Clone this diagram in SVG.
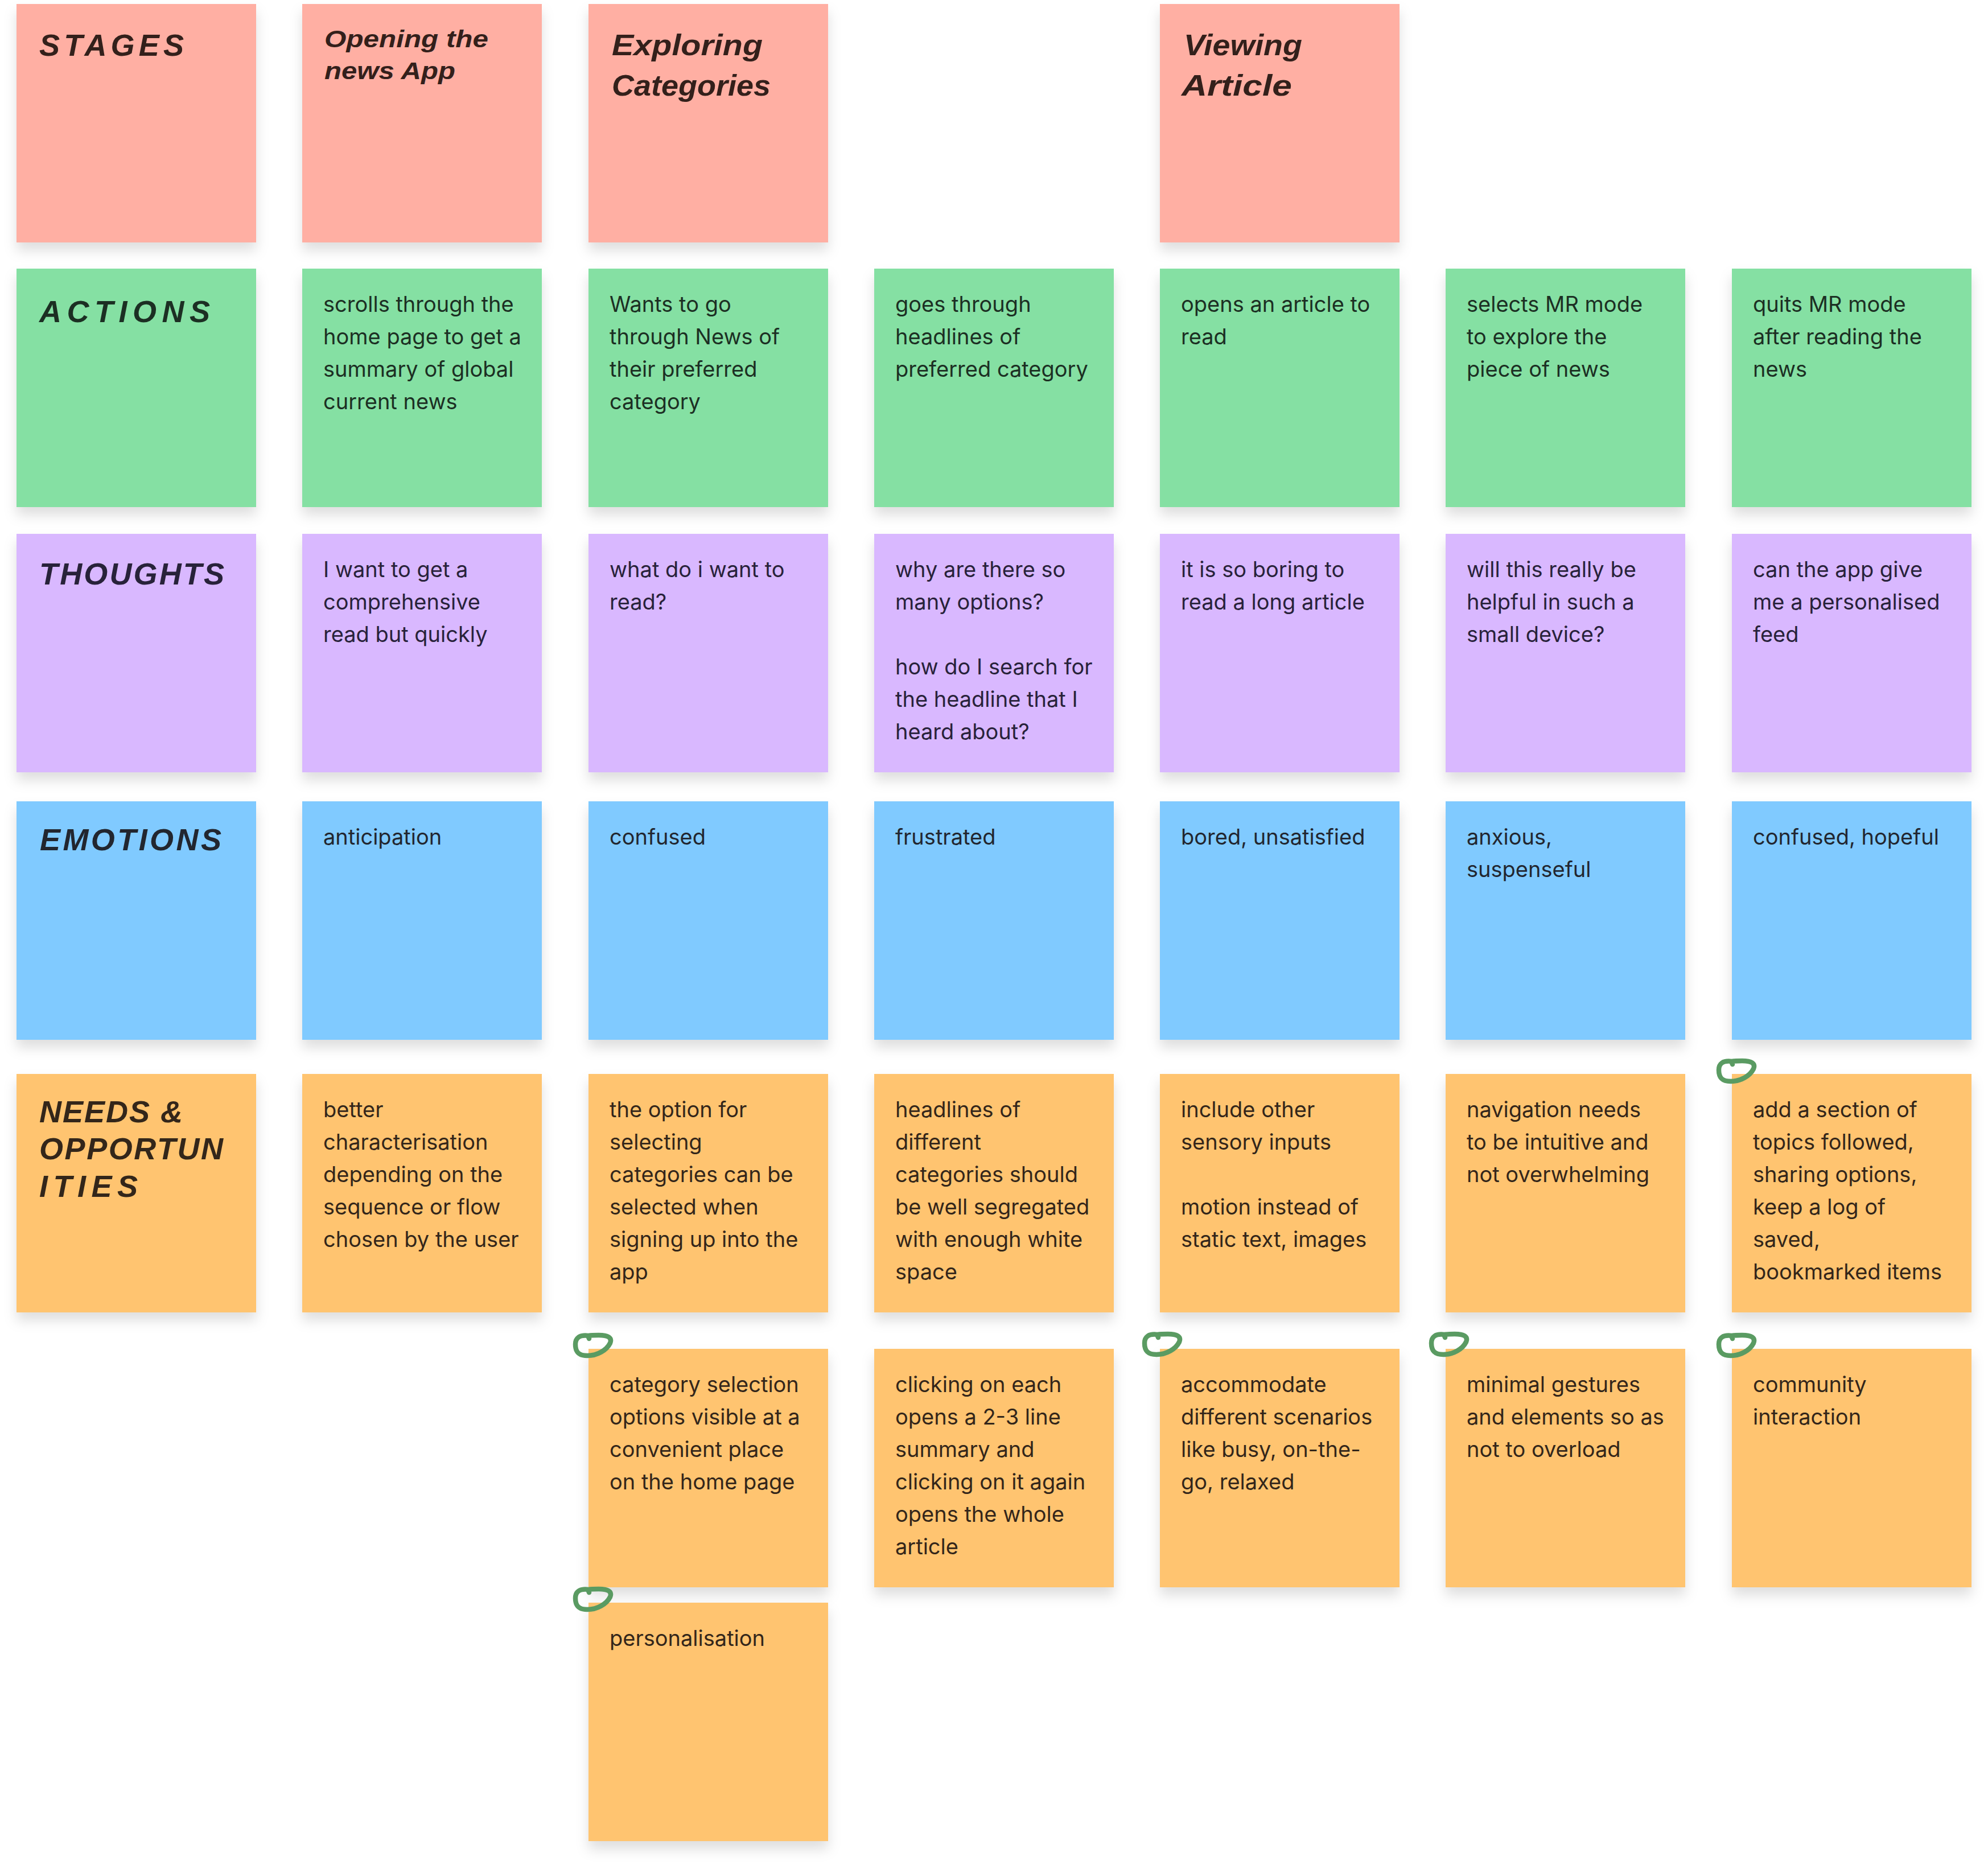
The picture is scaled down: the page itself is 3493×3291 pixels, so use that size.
<svg xmlns="http://www.w3.org/2000/svg" width="3493" height="3291" viewBox="0 0 3493 3291">
<defs>
<filter id="sh" x="-10%" y="-10%" width="120%" height="130%">
<feDropShadow dx="0" dy="14" stdDeviation="11" flood-color="#000" flood-opacity="0.13"/>
</filter>
<style>
.note{filter:url(#sh);}
.pk{fill:#FFAFA3}.gr{fill:#85E0A3}.pu{fill:#D9B8FF}.bl{fill:#80CAFF}.or{fill:#FFC470}
.t{font-family:Inter,"Noto Sans","Liberation Sans",sans-serif;font-size:38px;}
.h{font-family:"Liberation Sans",Arial,sans-serif;font-size:54px;font-weight:bold;font-style:italic;}
.s{font-family:"Liberation Sans",Arial,sans-serif;font-weight:bold;font-style:italic;}
.tpk{fill:#33201b}.tgr{fill:#1c2f23}.tpu{fill:#28223a}.tbl{fill:#22262f}.tor{fill:#33261a}
.mk{fill:none;stroke:#5a9b62;stroke-width:8.5;stroke-linecap:round;stroke-linejoin:round}
</style>
<path id="mk" d="M -4,-20 C -20,-22 -27,-16 -27,-5 C -27,9 -21,15 -6,15 C 12,15 28,5 34,-7 C 38,-17 30,-21 14,-21 C 6,-21 1,-21 -4,-20 M -5,-20 L -3,-15"/>
</defs>
<rect width="3493" height="3291" fill="#ffffff"/>

<!-- STAGES row -->
<g id="stages-label"><rect class="note pk" x="29" y="7" width="421" height="419"/>
<text class="h tpk" x="69" y="98" textLength="254" lengthAdjust="spacing">STAGES</text></g>
<g id="stage-opening"><rect class="note pk" x="531" y="7" width="421" height="419"/>
<text class="s tpk" font-size="42" x="570" y="83" textLength="288" lengthAdjust="spacingAndGlyphs">Opening the</text>
<text class="s tpk" font-size="42" x="570" y="139" textLength="230" lengthAdjust="spacingAndGlyphs">news App</text></g>
<g id="stage-exploring"><rect class="note pk" x="1034" y="7" width="421" height="419"/>
<text class="s tpk" font-size="52" x="1075" y="97" textLength="265" lengthAdjust="spacingAndGlyphs">Exploring</text>
<text class="s tpk" font-size="52" x="1075" y="168" textLength="279" lengthAdjust="spacingAndGlyphs">Categories</text></g>
<g id="stage-viewing"><rect class="note pk" x="2038" y="7" width="421" height="419"/>
<text class="s tpk" font-size="52" x="2080" y="97" textLength="208" lengthAdjust="spacingAndGlyphs">Viewing</text>
<text class="s tpk" font-size="52" x="2076" y="168" textLength="194" lengthAdjust="spacingAndGlyphs">Article</text></g>

<!-- ACTIONS row -->
<g id="actions-label"><rect class="note gr" x="29" y="472" width="421" height="419"/>
<text class="h tgr" x="69" y="566" textLength="300" lengthAdjust="spacing">ACTIONS</text></g>
<g id="action-1"><rect class="note gr" x="531" y="472" width="421" height="419"/>
<text class="t tgr" y="548"><tspan x="568">scrolls through the</tspan><tspan x="568" dy="57">home page to get a</tspan><tspan x="568" dy="57">summary of global</tspan><tspan x="568" dy="57">current news</tspan></text></g>
<g id="action-2"><rect class="note gr" x="1034" y="472" width="421" height="419"/>
<text class="t tgr" y="548"><tspan x="1071">Wants to go</tspan><tspan x="1071" dy="57">through News of</tspan><tspan x="1071" dy="57">their preferred</tspan><tspan x="1071" dy="57">category</tspan></text></g>
<g id="action-3"><rect class="note gr" x="1536" y="472" width="421" height="419"/>
<text class="t tgr" y="548"><tspan x="1573">goes through</tspan><tspan x="1573" dy="57">headlines of</tspan><tspan x="1573" dy="57">preferred category</tspan></text></g>
<g id="action-4"><rect class="note gr" x="2038" y="472" width="421" height="419"/>
<text class="t tgr" y="548"><tspan x="2075">opens an article to</tspan><tspan x="2075" dy="57">read</tspan></text></g>
<g id="action-5"><rect class="note gr" x="2540" y="472" width="421" height="419"/>
<text class="t tgr" y="548"><tspan x="2577">selects MR mode</tspan><tspan x="2577" dy="57">to explore the</tspan><tspan x="2577" dy="57">piece of news</tspan></text></g>
<g id="action-6"><rect class="note gr" x="3043" y="472" width="421" height="419"/>
<text class="t tgr" y="548"><tspan x="3080">quits MR mode</tspan><tspan x="3080" dy="57">after reading the</tspan><tspan x="3080" dy="57">news</tspan></text></g>

<!-- THOUGHTS row -->
<g id="thoughts-label"><rect class="note pu" x="29" y="938" width="421" height="419"/>
<text class="h tpu" x="69" y="1027" textLength="325" lengthAdjust="spacing">THOUGHTS</text></g>
<g id="thought-1"><rect class="note pu" x="531" y="938" width="421" height="419"/>
<text class="t tpu" y="1014"><tspan x="568">I want to get a</tspan><tspan x="568" dy="57">comprehensive</tspan><tspan x="568" dy="57">read but quickly</tspan></text></g>
<g id="thought-2"><rect class="note pu" x="1034" y="938" width="421" height="419"/>
<text class="t tpu" y="1014"><tspan x="1071">what do i want to</tspan><tspan x="1071" dy="57">read?</tspan></text></g>
<g id="thought-3"><rect class="note pu" x="1536" y="938" width="421" height="419"/>
<text class="t tpu" y="1014"><tspan x="1573">why are there so</tspan><tspan x="1573" dy="57">many options?</tspan><tspan x="1573" dy="114">how do I search for</tspan><tspan x="1573" dy="57">the headline that I</tspan><tspan x="1573" dy="57">heard about?</tspan></text></g>
<g id="thought-4"><rect class="note pu" x="2038" y="938" width="421" height="419"/>
<text class="t tpu" y="1014"><tspan x="2075">it is so boring to</tspan><tspan x="2075" dy="57">read a long article</tspan></text></g>
<g id="thought-5"><rect class="note pu" x="2540" y="938" width="421" height="419"/>
<text class="t tpu" y="1014"><tspan x="2577">will this really be</tspan><tspan x="2577" dy="57">helpful in such a</tspan><tspan x="2577" dy="57">small device?</tspan></text></g>
<g id="thought-6"><rect class="note pu" x="3043" y="938" width="421" height="419"/>
<text class="t tpu" y="1014"><tspan x="3080">can the app give</tspan><tspan x="3080" dy="57">me a personalised</tspan><tspan x="3080" dy="57">feed</tspan></text></g>

<!-- EMOTIONS row -->
<g id="emotions-label"><rect class="note bl" x="29" y="1408" width="421" height="419"/>
<text class="h tbl" x="70" y="1494" textLength="319" lengthAdjust="spacing">EMOTIONS</text></g>
<g id="emotion-1"><rect class="note bl" x="531" y="1408" width="421" height="419"/>
<text class="t tbl" x="568" y="1484">anticipation</text></g>
<g id="emotion-2"><rect class="note bl" x="1034" y="1408" width="421" height="419"/>
<text class="t tbl" x="1071" y="1484">confused</text></g>
<g id="emotion-3"><rect class="note bl" x="1536" y="1408" width="421" height="419"/>
<text class="t tbl" x="1573" y="1484">frustrated</text></g>
<g id="emotion-4"><rect class="note bl" x="2038" y="1408" width="421" height="419"/>
<text class="t tbl" x="2075" y="1484">bored, unsatisfied</text></g>
<g id="emotion-5"><rect class="note bl" x="2540" y="1408" width="421" height="419"/>
<text class="t tbl" y="1484"><tspan x="2577">anxious,</tspan><tspan x="2577" dy="57">suspenseful</tspan></text></g>
<g id="emotion-6"><rect class="note bl" x="3043" y="1408" width="421" height="419"/>
<text class="t tbl" x="3080" y="1484">confused, hopeful</text></g>

<!-- NEEDS row -->
<g id="needs-label"><rect class="note or" x="29" y="1887" width="421" height="419"/>
<text class="h tor" x="69" y="1972" textLength="252" lengthAdjust="spacing">NEEDS &amp;</text>
<text class="h tor" x="69" y="2037" textLength="323" lengthAdjust="spacing">OPPORTUN</text>
<text class="h tor" x="69" y="2103" textLength="173" lengthAdjust="spacing">ITIES</text></g>
<g id="need-1"><rect class="note or" x="531" y="1887" width="421" height="419"/>
<text class="t tor" y="1963"><tspan x="568">better</tspan><tspan x="568" dy="57">characterisation</tspan><tspan x="568" dy="57">depending on the</tspan><tspan x="568" dy="57">sequence or flow</tspan><tspan x="568" dy="57">chosen by the user</tspan></text></g>
<g id="need-2"><rect class="note or" x="1034" y="1887" width="421" height="419"/>
<text class="t tor" y="1963"><tspan x="1071">the option for</tspan><tspan x="1071" dy="57">selecting</tspan><tspan x="1071" dy="57">categories can be</tspan><tspan x="1071" dy="57">selected when</tspan><tspan x="1071" dy="57">signing up into the</tspan><tspan x="1071" dy="57">app</tspan></text></g>
<g id="need-3"><rect class="note or" x="1536" y="1887" width="421" height="419"/>
<text class="t tor" y="1963"><tspan x="1573">headlines of</tspan><tspan x="1573" dy="57">different</tspan><tspan x="1573" dy="57">categories should</tspan><tspan x="1573" dy="57">be well segregated</tspan><tspan x="1573" dy="57">with enough white</tspan><tspan x="1573" dy="57">space</tspan></text></g>
<g id="need-4"><rect class="note or" x="2038" y="1887" width="421" height="419"/>
<text class="t tor" y="1963"><tspan x="2075">include other</tspan><tspan x="2075" dy="57">sensory inputs</tspan><tspan x="2075" dy="114">motion instead of</tspan><tspan x="2075" dy="57">static text, images</tspan></text></g>
<g id="need-5"><rect class="note or" x="2540" y="1887" width="421" height="419"/>
<text class="t tor" y="1963"><tspan x="2577">navigation needs</tspan><tspan x="2577" dy="57">to be intuitive and</tspan><tspan x="2577" dy="57">not overwhelming</tspan></text></g>
<g id="need-6"><rect class="note or" x="3043" y="1887" width="421" height="419"/>
<text class="t tor" y="1963"><tspan x="3080">add a section of</tspan><tspan x="3080" dy="57">topics followed,</tspan><tspan x="3080" dy="57">sharing options,</tspan><tspan x="3080" dy="57">keep a log of</tspan><tspan x="3080" dy="57">saved,</tspan><tspan x="3080" dy="57">bookmarked items</tspan></text></g>

<g id="need-2b"><rect class="note or" x="1034" y="2370" width="421" height="419"/>
<text class="t tor" y="2446"><tspan x="1071">category selection</tspan><tspan x="1071" dy="57">options visible at a</tspan><tspan x="1071" dy="57">convenient place</tspan><tspan x="1071" dy="57">on the home page</tspan></text></g>
<g id="need-3b"><rect class="note or" x="1536" y="2370" width="421" height="419"/>
<text class="t tor" y="2446"><tspan x="1573">clicking on each</tspan><tspan x="1573" dy="57">opens a 2-3 line</tspan><tspan x="1573" dy="57">summary and</tspan><tspan x="1573" dy="57">clicking on it again</tspan><tspan x="1573" dy="57">opens the whole</tspan><tspan x="1573" dy="57">article</tspan></text></g>
<g id="need-4b"><rect class="note or" x="2038" y="2370" width="421" height="419"/>
<text class="t tor" y="2446"><tspan x="2075">accommodate</tspan><tspan x="2075" dy="57">different scenarios</tspan><tspan x="2075" dy="57">like busy, on-the-</tspan><tspan x="2075" dy="57">go, relaxed</tspan></text></g>
<g id="need-5b"><rect class="note or" x="2540" y="2370" width="421" height="419"/>
<text class="t tor" y="2446"><tspan x="2577">minimal gestures</tspan><tspan x="2577" dy="57">and elements so as</tspan><tspan x="2577" dy="57">not to overload</tspan></text></g>
<g id="need-6b"><rect class="note or" x="3043" y="2370" width="421" height="419"/>
<text class="t tor" y="2446"><tspan x="3080">community</tspan><tspan x="3080" dy="57">interaction</tspan></text></g>
<g id="need-2c"><rect class="note or" x="1034" y="2816" width="421" height="419"/>
<text class="t tor" x="1071" y="2892">personalisation</text></g>

<!-- hand-drawn marks -->
<g id="marks">
<use href="#mk" class="mk" x="3047" y="1885"/>
<use href="#mk" class="mk" x="1038" y="2367"/>
<use href="#mk" class="mk" x="2038" y="2365"/>
<use href="#mk" class="mk" x="2542" y="2365"/>
<use href="#mk" class="mk" x="3047" y="2367"/>
<use href="#mk" class="mk" x="1038" y="2813"/>
</g>
</svg>
